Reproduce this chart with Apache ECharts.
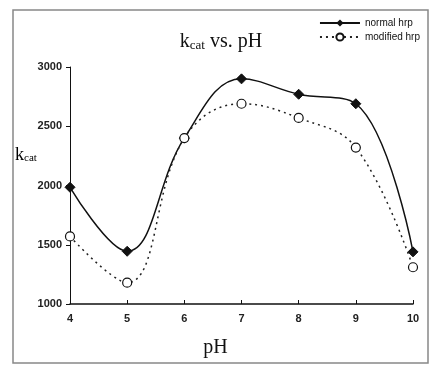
<!DOCTYPE html>
<html>
<head>
<meta charset="utf-8">
<script src="https://cdn.jsdelivr.net/npm/echarts@6/dist/echarts.min.js"></script>
<style>
  html, body { margin: 0; padding: 0; background: #fff; }
  #chart { width: 439px; height: 375px; }
</style>
</head>
<body>
<div id="chart"></div>
<script>
// pH values and kcat readings
var phValues = [4, 5, 6, 7, 8, 9, 10]
var normalHrp = [1985, 1445, 2400, 2900, 2770, 2690, 1440]
var modifiedHrp = [1570, 1180, 2400, 2690, 2570, 2320, 1310]
var yTicks = [1000, 1500, 2000, 2500, 3000]

function pairs(xs, ys) {
  return xs.map(function(x, i) { return [x, ys[i]] })
}

var chart = echarts.init(document.getElementById('chart'))
chart.setOption({
  backgroundColor: '#fff',
  animation: false,
  title: {
    text: '{k|k}{s|cat}{k| vs. pH}',
    left: 216,
    top: 26,
    textAlign: 'center',
    textStyle: {
      fontWeight: 'normal',
      rich: {
        k: { fontFamily: 'Liberation Serif', fontWeight: 'normal', fontSize: 20, color: '#111', verticalAlign: 'bottom' },
        s: { fontFamily: 'Liberation Serif', fontWeight: 'normal', fontSize: 13, color: '#111', padding: [8, 0, 0, 0], verticalAlign: 'bottom' }
      }
    }
  },
  legend: {
    orient: 'vertical',
    right: 14,
    top: 13,
    itemWidth: 40,
    itemHeight: 9,
    itemGap: 4,
    textStyle: { fontFamily: 'Liberation Sans', fontSize: 10, color: '#111' },
    data: ['normal hrp', 'modified hrp']
  },
  grid: {
    left: 70,
    right: 26,
    top: 67,
    bottom: 71
  },
  xAxis: {
    type: 'value',
    min: 4,
    max: 10,
    interval: 1,
    name: 'pH',
    nameLocation: 'middle',
    nameGap: 34,
    nameTextStyle: { fontFamily: 'Liberation Serif', fontSize: 20, color: '#111', padding: [0, 52, 0, 0] },
    axisLine: { lineStyle: { color: '#111', width: 1.5 } },
    axisTick: { inside: true, length: 4, lineStyle: { color: '#111' } },
    axisLabel: { fontFamily: 'Liberation Sans', fontWeight: 'bold', fontSize: 11, color: '#222', margin: 9 },
    splitLine: { show: false }
  },
  yAxis: {
    type: 'value',
    min: 1000,
    max: 3000,
    interval: 500,
    axisLine: { show: true, lineStyle: { color: '#111', width: 1 } },
    axisTick: { show: true, length: 4, lineStyle: { color: '#111' } },
    axisLabel: {
      fontFamily: 'Liberation Sans', fontWeight: 'bold', fontSize: 11, color: '#222', margin: 8,
      formatter: function(v) { return yTicks.indexOf(v) >= 0 ? String(v) : '' }
    },
    splitLine: { show: false }
  },
  graphic: [
    {
      type: 'rect',
      shape: { x: 13, y: 10, width: 415, height: 353 },
      style: { fill: 'none', stroke: '#888', lineWidth: 1.5 },
      silent: true
    },
    {
      type: 'text',
      left: 15,
      top: 146,
      style: {
        text: '{k|k}{s|cat}',
        rich: {
          k: { fontFamily: 'Liberation Serif', fontSize: 18, color: '#111', verticalAlign: 'bottom' },
          s: { fontFamily: 'Liberation Serif', fontSize: 11, color: '#111', padding: [8, 0, 0, 0], verticalAlign: 'bottom' }
        }
      }
    }
  ],
  series: [
    {
      name: 'normal hrp',
      type: 'line',
      smooth: 0.4,
      data: pairs(phValues, normalHrp),
      symbol: 'diamond',
      symbolSize: 10,
      itemStyle: { color: '#111', borderColor: '#111' },
      lineStyle: { color: '#111', width: 1.5, type: 'solid' },
      z: 2
    },
    {
      name: 'modified hrp',
      type: 'line',
      smooth: 0.4,
      data: pairs(phValues, modifiedHrp),
      symbol: 'circle',
      symbolSize: 9,
      itemStyle: { color: '#fff', borderColor: '#111', borderWidth: 1.2 },
      lineStyle: { color: '#222', width: 1.5, type: [2, 4] },
      z: 3
    }
  ]
})
</script>
</body>
</html>
